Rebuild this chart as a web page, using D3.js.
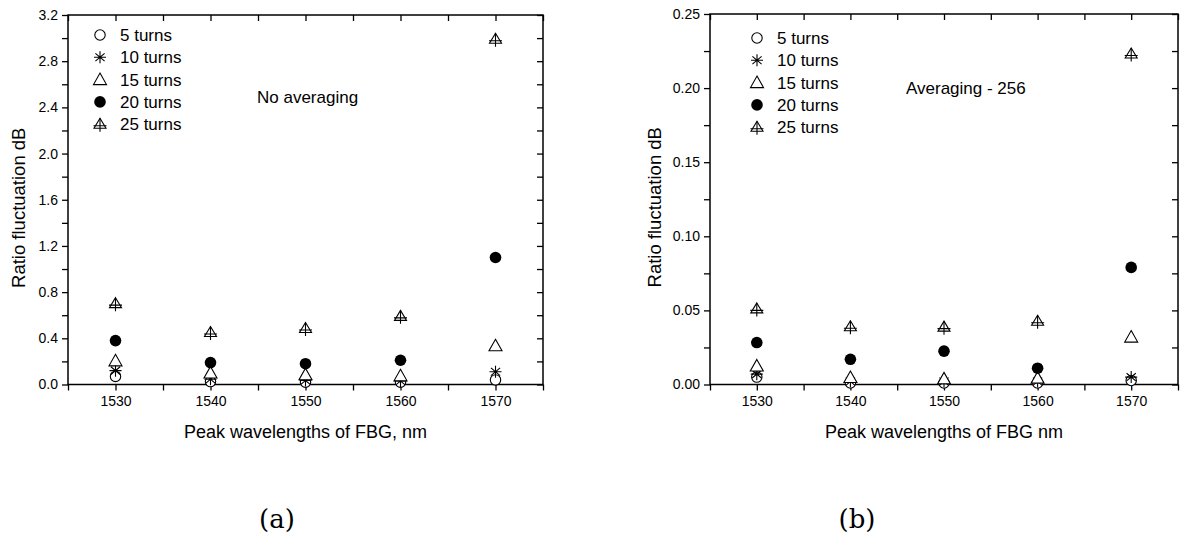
<!DOCTYPE html>
<html>
<head>
<meta charset="utf-8">
<script src="https://cdn.jsdelivr.net/npm/d3@7"></script>
<style>
  html, body { margin: 0; padding: 0; background: #fff; }
  svg { display: block; }
  text { font-family: "Liberation Sans", Arial, sans-serif; fill: #000; }
</style>
</head>
<body>
<svg id="chart" width="1184" height="540"></svg>
<script>
// ---- data ----
const wavelengths = [1530, 1540, 1550, 1560, 1570];
const seriesLabels = ["5 turns", "10 turns", "15 turns", "20 turns", "25 turns"];
const seriesSymbols = ["circle", "star", "triangle", "dot", "tricross"];

// (a) No averaging
const noAvg5turns  = [0.07, 0.025, 0.02, 0.02, 0.04];
const noAvg10turns = [0.12, 0.045, 0.035, 0.03, 0.11];
const noAvg15turns = [0.205, 0.10, 0.085, 0.075, 0.335];
const noAvg20turns = [0.38, 0.19, 0.18, 0.21, 1.10];
const noAvg25turns = [0.70, 0.45, 0.485, 0.59, 2.99];

// (b) Averaging - 256
const avg5turns  = [0.005, 0.001, 0.001, 0.001, 0.0027];
const avg10turns = [0.007, 0.002, 0.002, 0.002, 0.005];
const avg15turns = [0.0125, 0.0047, 0.0038, 0.0043, 0.032];
const avg20turns = [0.0283, 0.017, 0.0225, 0.011, 0.079];
const avg25turns = [0.051, 0.039, 0.0387, 0.0427, 0.223];

const xTickValues = [1530, 1540, 1550, 1560, 1570];
const xMinorTicks = [1525, 1535, 1545, 1555, 1565, 1575];
const yTicksA = [0.0, 0.4, 0.8, 1.2, 1.6, 2.0, 2.4, 2.8, 3.2];
const yTicksB = [0.00, 0.05, 0.10, 0.15, 0.20, 0.25];

const svg = d3.select("#chart");
const FONT = "'Liberation Sans', Arial, sans-serif";

function symbolPath(g, type, cx, cy) {
  const s = g.append("g").attr("transform", `translate(${cx},${cy})`);
  const stroke = "#000", sw = 1.1;
  if (type === "circle") {
    s.append("circle").attr("r", 5.2).attr("fill", "#fff").attr("stroke", stroke).attr("stroke-width", sw);
  } else if (type === "dot") {
    s.append("circle").attr("r", 5.8).attr("fill", "#000");
  } else if (type === "triangle") {
    s.append("path").attr("d", "M0,-6.5 L6.5,5 L-6.5,5 Z").attr("fill", "#fff").attr("stroke", stroke).attr("stroke-width", sw);
  } else if (type === "star") {
    const r = 6;
    let d = `M0,${-r}L0,${r}M${-r},0L${r},0`;
    for (const a of [40, 140]) {
      const rad = a * Math.PI / 180;
      d += `M${-r*Math.cos(rad)},${-r*Math.sin(rad)}L${r*Math.cos(rad)},${r*Math.sin(rad)}`;
    }
    s.append("path").attr("d", d).attr("stroke", stroke).attr("stroke-width", sw).attr("fill", "none");
  } else if (type === "tricross") {
    s.append("path").attr("d", "M0,-6 L6,4 L-6,4 Z").attr("fill", "#fff").attr("stroke", stroke).attr("stroke-width", sw);
    s.append("path").attr("d", "M0,-6 L0,7.5 M-6.5,1.5 L6.5,1.5").attr("stroke", stroke).attr("stroke-width", sw).attr("fill", "none");
  }
}

function panel(cfg) {
  const { left, right, top, bottom } = cfg;
  const g = svg.append("g");
  const x = d3.scaleLinear().domain([1525, 1575]).range([left, right]);
  const y = d3.scaleLinear().domain(cfg.yDomain).range([bottom, top]);

  // bottom axis
  g.append("g").attr("transform", `translate(0,${bottom})`)
    .call(d3.axisBottom(x).tickValues(xTickValues).tickSize(6).tickPadding(6).tickFormat(d3.format("d")))
    .call(a => a.select(".domain").remove())
    .call(a => a.selectAll("text").attr("font-size", 14).style("font-family", FONT))
    .call(a => a.selectAll("line").attr("stroke-width", 1.3));
  g.append("g").attr("transform", `translate(0,${bottom})`)
    .call(d3.axisBottom(x).tickValues(xMinorTicks).tickSize(6).tickFormat(""))
    .call(a => a.select(".domain").remove())
    .call(a => a.selectAll("line").attr("stroke-width", 1.3));
  // top axis (inward)
  g.append("g").attr("transform", `translate(0,${top})`)
    .call(d3.axisBottom(x).tickValues(xTickValues.concat(xMinorTicks)).tickSize(6).tickFormat(""))
    .call(a => a.select(".domain").remove())
    .call(a => a.selectAll("line").attr("stroke-width", 1.3));

  // left axis
  g.append("g").attr("transform", `translate(${left},0)`)
    .call(d3.axisLeft(y).tickValues(cfg.yTicks).tickSize(6).tickPadding(4).tickFormat(cfg.yFormat))
    .call(a => a.select(".domain").remove())
    .call(a => a.selectAll("text").attr("font-size", 14).style("font-family", FONT))
    .call(a => a.selectAll("line").attr("stroke-width", 1.3));
  g.append("g").attr("transform", `translate(${left},0)`)
    .call(d3.axisLeft(y).tickValues(cfg.yMinor).tickSize(6).tickFormat(""))
    .call(a => a.select(".domain").remove())
    .call(a => a.selectAll("line").attr("stroke-width", 1.3));
  // right axis (inward)
  g.append("g").attr("transform", `translate(${right},0)`)
    .call(d3.axisLeft(y).tickValues(cfg.yTicks.concat(cfg.yMinor)).tickSize(6).tickFormat(""))
    .call(a => a.select(".domain").remove())
    .call(a => a.selectAll("line").attr("stroke-width", 1.3));

  // frame
  g.append("rect").attr("x", left).attr("y", top).attr("width", right - left).attr("height", bottom - top)
    .attr("fill", "none").attr("stroke", "#000").attr("stroke-width", 1.5);

  // points
  cfg.series.forEach((vals, si) => {
    vals.forEach((v, i) => symbolPath(g, seriesSymbols[si], x(wavelengths[i]), y(v)));
  });

  // legend
  seriesLabels.forEach((lab, i) => {
    const ly = cfg.legendY + i * 22.3;
    symbolPath(g, seriesSymbols[i], cfg.legendX, ly);
    g.append("text").attr("x", cfg.legendX + 20).attr("y", ly).attr("dy", "0.35em")
      .attr("font-size", 17).text(lab);
  });

  // annotation
  g.append("text").attr("x", cfg.noteX).attr("y", cfg.noteY).attr("dy", "0.35em")
    .attr("font-size", 17).text(cfg.note);

  // axis titles
  g.append("text").attr("x", (left + right) / 2).attr("y", 438).attr("text-anchor", "middle")
    .attr("font-size", 18).text(cfg.xTitle);
  g.append("text").attr("transform", `translate(${cfg.yTitleX},${(top + bottom) / 2 + 8}) rotate(-90)`)
    .attr("text-anchor", "middle").attr("font-size", 18.5).text("Ratio fluctuation dB");

  // sub caption
  g.append("text").attr("x", cfg.capX).attr("y", 528).attr("text-anchor", "middle")
    .style("font-family", "'DejaVu Serif', 'Liberation Serif', serif").attr("font-size", 26).text(cfg.caption);
}

panel({
  left: 68, right: 543, top: 15, bottom: 384.5,
  yDomain: [0, 3.2], yTicks: yTicksA, yMinor: [0.2, 0.6, 1.0, 1.4, 1.8, 2.2, 2.6, 3.0],
  yFormat: d3.format(".1f"),
  series: [noAvg5turns, noAvg10turns, noAvg15turns, noAvg20turns, noAvg25turns],
  legendX: 100, legendY: 35,
  note: "No averaging", noteX: 257, noteY: 97,
  xTitle: "Peak wavelengths of FBG, nm", yTitleX: 25,
  caption: "(a)", capX: 277
});

panel({
  left: 710, right: 1178, top: 14, bottom: 384.5,
  yDomain: [0, 0.25], yTicks: yTicksB, yMinor: [0.025, 0.075, 0.125, 0.175, 0.225],
  yFormat: d3.format(".2f"),
  series: [avg5turns, avg10turns, avg15turns, avg20turns, avg25turns],
  legendX: 757, legendY: 38,
  note: "Averaging - 256", noteX: 906, noteY: 88,
  xTitle: "Peak wavelengths of FBG nm", yTitleX: 661,
  caption: "(b)", capX: 857
});
</script>
</body>
</html>
